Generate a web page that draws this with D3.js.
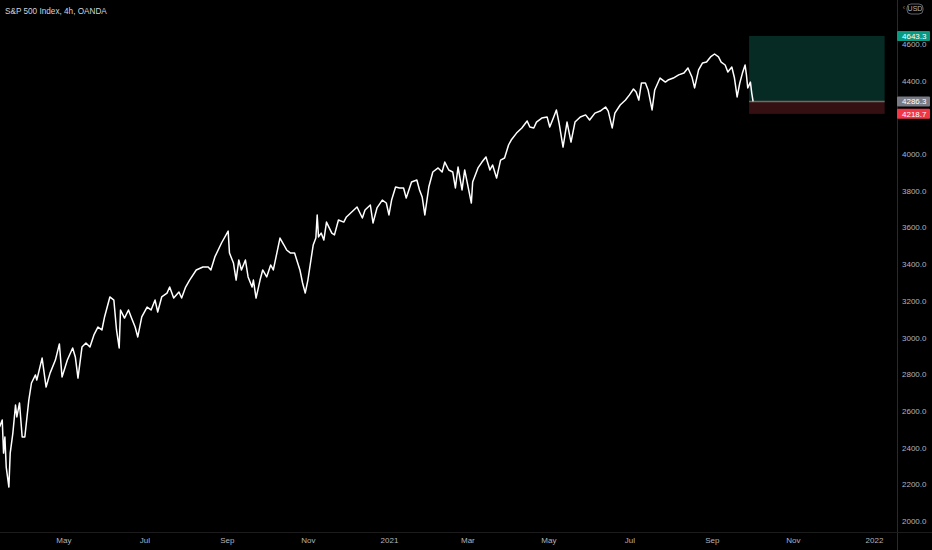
<!DOCTYPE html>
<html>
<head>
<meta charset="utf-8">
<script src="https://cdn.jsdelivr.net/npm/d3@7"></script>
<style>
  html, body { margin: 0; padding: 0; background: #000; }
  svg { display: block; }
  text { font-family: "Liberation Sans", Arial, sans-serif; }
</style>
</head>
<body>
<svg id="chart" width="932" height="550"></svg>
<script>
// ---------- DATA ----------
const title = "S&P 500 Index, 4h, OANDA";
const currency = "USD";

const dates = [
"2020-03-14","2020-03-16","2020-03-17","2020-03-18","2020-03-19","2020-03-21","2020-03-22","2020-03-24","2020-03-26","2020-03-27",
"2020-03-29","2020-03-31","2020-04-02","2020-04-05","2020-04-07","2020-04-10","2020-04-11","2020-04-15","2020-04-18","2020-04-21",
"2020-04-25","2020-04-28","2020-04-30","2020-05-04","2020-05-08","2020-05-10","2020-05-12","2020-05-15","2020-05-18","2020-05-21",
"2020-05-24","2020-05-27","2020-05-30","2020-06-01","2020-06-05","2020-06-08","2020-06-10","2020-06-12","2020-06-13","2020-06-16",
"2020-06-19","2020-06-21","2020-06-24","2020-06-26","2020-06-29","2020-07-03","2020-07-06","2020-07-09","2020-07-11","2020-07-14",
"2020-07-18","2020-07-20","2020-07-23","2020-07-27","2020-07-29","2020-08-01","2020-08-04","2020-08-09","2020-08-14","2020-08-18",
"2020-08-20","2020-08-23","2020-08-28","2020-09-02","2020-09-03","2020-09-06","2020-09-08","2020-09-10","2020-09-12","2020-09-15",
"2020-09-17","2020-09-20","2020-09-21","2020-09-23","2020-09-26","2020-09-28","2020-10-01","2020-10-04","2020-10-06","2020-10-11",
"2020-10-14","2020-10-16","2020-10-19","2020-10-22","2020-10-26","2020-10-28","2020-10-30","2020-11-01","2020-11-05","2020-11-07",
"2020-11-08","2020-11-09","2020-11-11","2020-11-13","2020-11-15","2020-11-19","2020-11-21","2020-11-24","2020-11-28","2020-11-30",
"2020-12-04","2020-12-08","2020-12-12","2020-12-14","2020-12-18","2020-12-20","2020-12-23","2020-12-27","2020-12-30","2021-01-01",
"2021-01-03","2021-01-06","2021-01-09","2021-01-12","2021-01-14","2021-01-18","2021-01-22","2021-01-24","2021-01-26","2021-01-28",
"2021-01-31","2021-02-03","2021-02-07","2021-02-10","2021-02-12","2021-02-15","2021-02-18","2021-02-20","2021-02-22","2021-02-25",
"2021-02-27","2021-03-02","2021-03-04","2021-03-05","2021-03-09","2021-03-12","2021-03-15","2021-03-18","2021-03-20","2021-03-23",
"2021-03-26","2021-03-29","2021-04-01","2021-04-03","2021-04-07","2021-04-11","2021-04-15","2021-04-17","2021-04-20","2021-04-22",
"2021-04-26","2021-04-30","2021-05-02","2021-05-05","2021-05-07","2021-05-09","2021-05-12","2021-05-15","2021-05-18","2021-05-21",
"2021-05-25","2021-05-29","2021-06-01","2021-06-05","2021-06-09","2021-06-13","2021-06-15","2021-06-18","2021-06-20","2021-06-24",
"2021-06-28","2021-07-01","2021-07-04","2021-07-06","2021-07-08","2021-07-10","2021-07-13","2021-07-15","2021-07-18","2021-07-20",
"2021-07-24","2021-07-28","2021-07-30","2021-08-03","2021-08-07","2021-08-11","2021-08-14","2021-08-17","2021-08-19","2021-08-22",
"2021-08-25","2021-08-28","2021-08-31","2021-09-03","2021-09-06","2021-09-08","2021-09-11","2021-09-13","2021-09-16","2021-09-18",
"2021-09-20","2021-09-22","2021-09-24","2021-09-26","2021-09-27","2021-09-28","2021-09-30","2021-10-01","2021-10-02"
];

const closes = [
2512,2550,2370,2458,2294,2185,2370,2479,2632,2567,
2643,2458,2458,2659,2752,2796,2768,2888,2730,2806,
2877,2965,2785,2877,2943,2894,2779,2948,2970,2948,
3014,3057,3041,3112,3221,3204,3041,2943,3150,3106,
3150,3112,3057,3003,3112,3166,3150,3204,3139,3221,
3242,3275,3215,3248,3215,3275,3313,3368,3384,3384,
3368,3439,3515,3580,3460,3406,3313,3422,3368,3422,
3330,3275,3313,3215,3313,3368,3330,3395,3368,3542,
3504,3477,3460,3460,3368,3297,3242,3313,3504,3542,
3668,3548,3569,3531,3629,3569,3559,3640,3629,3657,
3684,3711,3651,3695,3722,3624,3706,3749,3733,3668,
3749,3820,3815,3815,3760,3847,3858,3804,3766,3668,
3820,3902,3924,3902,3956,3913,3902,3815,3929,3804,
3913,3804,3733,3847,3924,3956,3984,3913,3940,3869,
3967,3978,4049,4076,4114,4142,4180,4147,4142,4174,
4196,4202,4147,4202,4240,4169,4038,4174,4065,4174,
4202,4213,4185,4223,4234,4256,4234,4142,4223,4267,
4294,4322,4354,4338,4294,4387,4387,4349,4240,4349,
4414,4392,4403,4414,4431,4441,4469,4420,4360,4458,
4496,4501,4529,4545,4529,4501,4485,4447,4474,4414,
4311,4387,4441,4485,4431,4360,4392,4332,4286.3
];

const priceTicks = [2000,2200,2400,2600,2800,3000,3200,3400,3600,3800,4000,4200,4400,4600];
const monthTicks = ["2020-05-01","2020-07-01","2020-09-01","2020-11-01","2021-01-01","2021-03-01",
                    "2021-05-01","2021-07-01","2021-09-01","2021-11-01","2022-01-01"];

// long position tool
const positionStart = "2021-09-29";
const positionEnd = "2022-01-09";
const targetPrice = 4643.3;
const entryPrice = 4286.3;
const stopPrice = 4218.7;

// ---------- LAYOUT ----------
const W = 932, H = 550;
const plotRight = 897;
const axisTop = 532;
const parse = d3.utcParse("%Y-%m-%d");

const x = d3.scaleUtc()
  .domain([parse("2020-03-01"), parse("2022-01-01")])
  .range([-17.7, 874]);
const y = d3.scaleLinear().domain([2000, 4000]).range([521, 154]);

const svg = d3.select("#chart");
svg.append("rect").attr("width", W).attr("height", H).attr("fill", "#000");

const plot = svg.append("g");
plot.append("clipPath").attr("id", "clip")
  .append("rect").attr("x", 0).attr("y", 0).attr("width", plotRight).attr("height", axisTop);

// position boxes
const px0 = x(parse(positionStart)), px1 = x(parse(positionEnd));
plot.append("rect")
  .attr("x", px0).attr("width", px1 - px0)
  .attr("y", y(targetPrice)).attr("height", y(entryPrice) - y(targetPrice))
  .attr("fill", "#062a24");
plot.append("rect")
  .attr("x", px0).attr("width", px1 - px0)
  .attr("y", y(entryPrice)).attr("height", y(stopPrice) - y(entryPrice))
  .attr("fill", "#351012");
plot.append("line")
  .attr("x1", px0).attr("x2", px1)
  .attr("y1", y(entryPrice)).attr("y2", y(entryPrice))
  .attr("stroke", "#6f6b62").attr("stroke-width", 1.5);

// price line
const series = dates.map((d, i) => ({ date: parse(d), value: closes[i] }));
plot.append("path")
  .datum(series)
  .attr("clip-path", "url(#clip)")
  .attr("fill", "none")
  .attr("stroke", "#ffffff")
  .attr("stroke-width", 1.5)
  .attr("stroke-linejoin", "round")
  .attr("d", d3.line().x(d => x(d.date)).y(d => y(d.value)));

// separators
svg.append("line").attr("x1", plotRight + 0.5).attr("x2", plotRight + 0.5)
  .attr("y1", 0).attr("y2", H).attr("stroke", "#2a2a2a");
svg.append("line").attr("x1", 0).attr("x2", W)
  .attr("y1", axisTop + 0.5).attr("y2", axisTop + 0.5).attr("stroke", "#1c1c1c");

// right axis (tick labels fully covered by a price label are hidden, as on the platform)
const labelPrices = [targetPrice, entryPrice, stopPrice];
const visibleTicks = priceTicks.filter(t =>
  labelPrices.every(p => Math.abs(y(p) - y(t)) > 6));
const yAxis = d3.axisRight(y).tickValues(visibleTicks).tickSize(0).tickPadding(5)
  .tickFormat(d3.format(".1f"));
const ya = svg.append("g").attr("transform", `translate(${plotRight},0)`).call(yAxis);
ya.select(".domain").remove();
ya.selectAll("text").attr("fill", "#b2b5be").attr("font-size", 8)
  .attr("font-family", "Liberation Sans, Arial, sans-serif");

// bottom axis
const xAxis = d3.axisBottom(x).tickValues(monthTicks.map(parse)).tickSize(0).tickPadding(5)
  .tickFormat(d => d.getUTCMonth() === 0 ? d3.utcFormat("%Y")(d) : d3.utcFormat("%b")(d));
const xa = svg.append("g").attr("transform", `translate(0,${axisTop})`).call(xAxis);
xa.select(".domain").remove();
xa.selectAll("text").attr("fill", "#b2b5be").attr("font-size", 8)
  .attr("font-family", "Liberation Sans, Arial, sans-serif");

// price labels on the axis
function priceLabel(v, bg) {
  const g = svg.append("g").attr("transform", `translate(${plotRight},${y(v)})`);
  g.append("rect").attr("x", 0).attr("y", -5).attr("width", 33).attr("height", 10)
    .attr("rx", 1).attr("fill", bg);
  g.append("text").attr("x", 5).attr("y", 0).attr("dy", "0.35em")
    .attr("fill", "#ffffff").attr("font-size", 8).text(d3.format(".1f")(v));
}
priceLabel(targetPrice, "#089981");
priceLabel(entryPrice, "#787b86");
priceLabel(stopPrice, "#f23645");

// currency badge
const cg = svg.append("g").attr("transform", "translate(907,9)");
cg.append("rect").attr("x", 0).attr("y", -5).attr("width", 16).attr("height", 10)
  .attr("rx", 4).attr("fill", "none").attr("stroke", "#787b86").attr("stroke-width", 0.8);
cg.append("text").attr("x", 8).attr("y", 0).attr("dy", "0.35em").attr("text-anchor", "middle")
  .attr("fill", "#b2b5be").attr("font-size", 7).text(currency);
cg.append("text").attr("x", -3).attr("y", -1).attr("dy", "0.35em").attr("text-anchor", "middle")
  .attr("fill", "#787b86").attr("font-size", 7).text("‹");

// title
svg.append("text").attr("x", 5).attr("y", 11).attr("dy", "0.35em")
  .attr("fill", "#d1d4dc").attr("font-size", 8.2).text(title);
</script>
</body>
</html>
